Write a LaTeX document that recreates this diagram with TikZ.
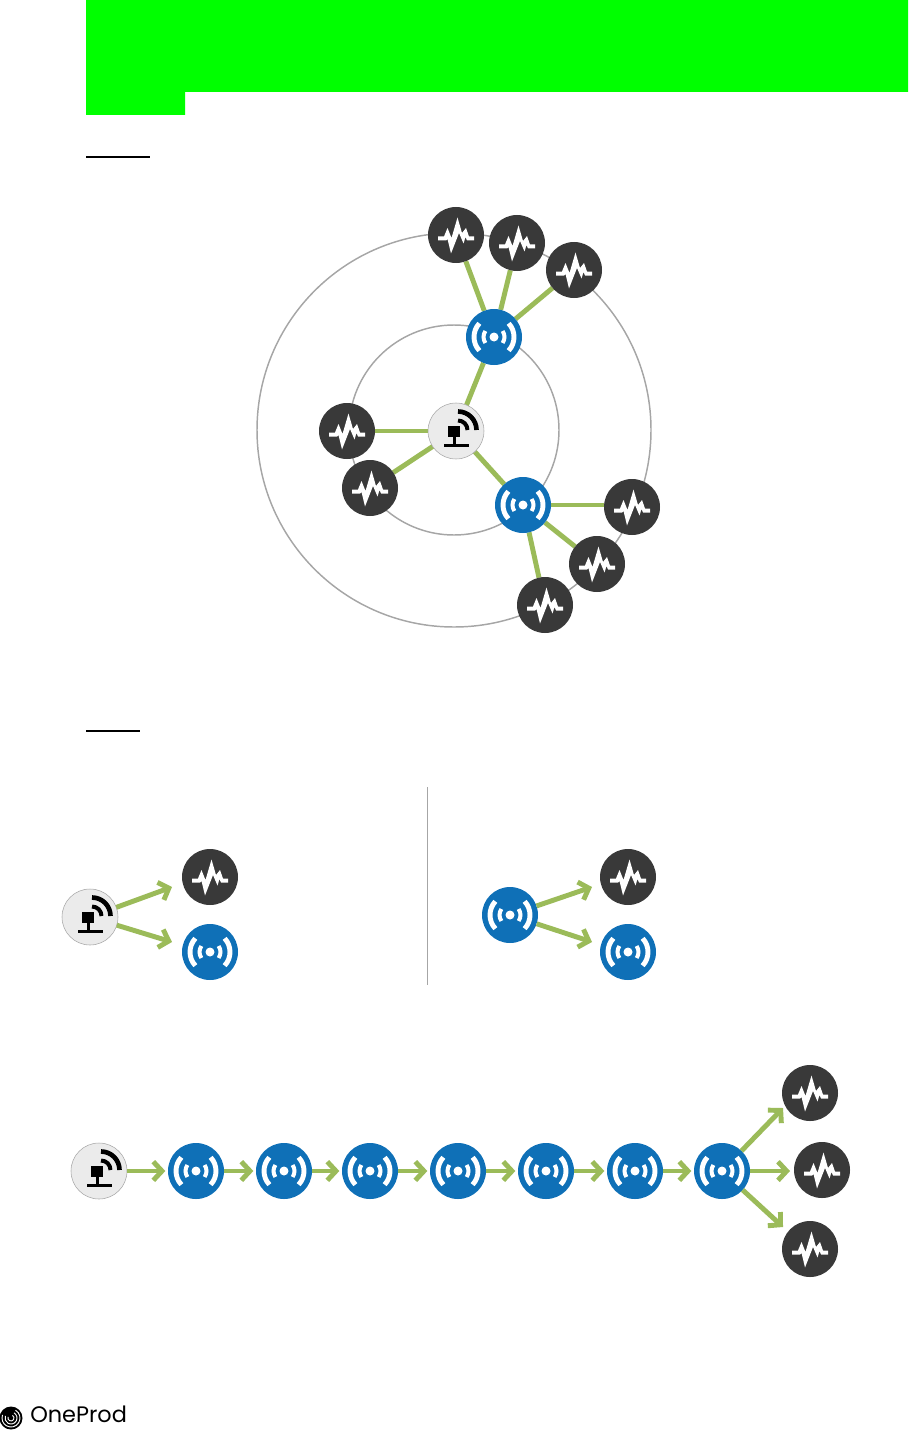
\documentclass[tikz,border=0pt]{standalone}
\usepackage{fontspec}
\setmainfont{Poppins}
\usetikzlibrary{arrows.meta,backgrounds}
\definecolor{linkgreen}{HTML}{9BBB59}
\definecolor{radioblue}{HTML}{0F70B7}
\definecolor{sensordark}{HTML}{393939}
\definecolor{apgray}{HTML}{EBEBEB}
\definecolor{ringgray}{HTML}{A6A6A6}
\tikzset{
  x=0.75pt,y=-0.75pt,
  unit/.style={circle,minimum size=42pt,inner sep=0pt,outer sep=0pt},
  sensor/.style={unit,fill=sensordark,path picture={
    \begin{scope}[shift={(path picture bounding box.center)}]
      \fill[white] (-18,1.5) -- (-12,1.5) -- (-8.5,-7) -- (-4.5,3) -- (1.5,-17.5) -- (6,-2) -- (10,-7) -- (13,1.5) -- (18,1.5)
        -- (18,5.5) -- (11,5.5) -- (9.5,2) -- (7.5,8.5) -- (3,-2) -- (-5,18.5) -- (-8.5,4) -- (-10,5.5) -- (-18,5.5) -- cycle;
    \end{scope}}},
  radio/.style={unit,fill=radioblue,path picture={
    \begin{scope}[shift={(path picture bounding box.center)}]
      \fill[white] (0,0) circle[radius=4.5];
      \draw[white,line width=3pt] (-35:10.5) arc[start angle=-35,end angle=35,radius=10.5];
      \draw[white,line width=3pt] (145:10.5) arc[start angle=145,end angle=215,radius=10.5];
      \draw[white,line width=3.7pt] (-43:20) arc[start angle=-43,end angle=43,radius=20];
      \draw[white,line width=3.7pt] (137:20) arc[start angle=137,end angle=223,radius=20];
    \end{scope}}},
  gateway/.style={unit,fill=apgray,draw=ringgray,line width=0.4pt,path picture={
    \begin{scope}[shift={(path picture bounding box.center)}]
      \fill[black] (-8.5,-5) rectangle (4,6);
      \fill[black] (-3.5,6) rectangle (-0.5,14);
      \fill[black] (-12,13) rectangle (13,16);
      \draw[black,line width=3pt] (2,-10.5) arc[start angle=-90,end angle=0,radius=9.5];
      \draw[black,line width=3.5pt] (2,-19.5) arc[start angle=-90,end angle=0,radius=18.5];
    \end{scope}}},
  link/.style={linkgreen,line width=3.7pt},
  flow/.style={linkgreen,line width=3.7pt,-{Straight Barb[length=6.5pt,width=14pt,line width=3.7pt]}},
  ring/.style={ringgray,line width=1.1pt},
}
\begin{document}
\begin{tikzpicture}
\useasboundingbox (0,0) rectangle (908,1430);
% highlighted heading band
\fill[green] (86,0) -- (908,0) -- (908,92) -- (185,92) -- (185,115) -- (86,115) -- cycle;
\fill[black] (86,156) rectangle (150,158);
\fill[black] (86,730) rectangle (140,732);

% star-mesh figure
\draw[ring] (454,430) circle[radius=105];
\draw[ring] (454,430) circle[radius=197];
\node[gateway] (ap) at (456,431) {};
\node[radio] (r1) at (494,337) {};
\node[radio] (r2) at (523,505) {};
\node[sensor] (s1) at (456,235) {};
\node[sensor] (s2) at (517,243) {};
\node[sensor] (s3) at (574,270) {};
\node[sensor] (s4) at (347,431) {};
\node[sensor] (s5) at (370,488) {};
\node[sensor] (s6) at (632,507) {};
\node[sensor] (s7) at (597,564) {};
\node[sensor] (s8) at (545,605) {};
\begin{pgfonlayer}{background}
\draw[link] (ap) -- (r1);
\draw[link] (ap) -- (r2);
\draw[link] (ap) -- (s4);
\draw[link] (ap) -- (s5);
\draw[link] (r1) -- (s1);
\draw[link] (r1) -- (s2);
\draw[link] (r1) -- (s3);
\draw[link] (r2.center) -- (r2.center -| s6.west);
\draw[link] (r2) -- (s7);
\draw[link] (r2) -- (s8);
\end{pgfonlayer}

% pairs
\draw[ringgray,line width=0.75pt] (427.5,787) -- (427.5,985);
\node[gateway] (a1) at (90,917) {};
\node[sensor] (a2) at (210,877) {};
\node[radio] (a3) at (210,952) {};
\coordinate (a2t) at (172,887);
\coordinate (a3t) at (172,942);
\draw[flow] (a1) -- (a2t);
\draw[flow] (a1) -- (a3t);
\node[radio] (b1) at (510,915) {};
\node[sensor] (b2) at (628,877) {};
\node[radio] (b3) at (628,952) {};
\coordinate (b2t) at (592,887);
\coordinate (b3t) at (592,942);
\draw[flow] (b1) -- (b2t);
\draw[flow] (b1) -- (b3t);

% chain
\node[gateway] (c0) at (99,1171) {};
\node[radio] (c1) at (196,1171) {};
\node[radio] (c2) at (284,1171) {};
\node[radio] (c3) at (370,1171) {};
\node[radio] (c4) at (458,1171) {};
\node[radio] (c5) at (546,1171) {};
\node[radio] (c6) at (635,1171) {};
\node[radio] (c7) at (722,1171) {};
\node[sensor] (d1) at (810,1093) {};
\node[sensor] (d2) at (822,1170) {};
\node[sensor] (d3) at (810,1249) {};
\foreach \p/\q in {c0/c1,c1/c2,c2/c3,c3/c4,c4/c5,c5/c6,c6/c7}
  \draw[flow,shorten >=2pt] (\p) -- (\q);
\coordinate (d1t) at (783,1108);
\coordinate (d2t) at (790,1171);
\coordinate (d3t) at (783,1227);
\draw[flow] (c7) -- (d1t);
\draw[flow] (c7) -- (d2t);
\draw[flow] (c7) -- (d3t);

% logo
\fill[black] (11,1418) circle[radius=11.5];
\foreach \r in {3,6,9}
  \draw[white,line width=0.7pt] (11,1418) ++(-60:\r) arc[start angle=-60,end angle=200,radius=\r];
\node[anchor=west,inner sep=0pt,font=\fontsize{16.8pt}{17pt}\selectfont] (logo) at (30,1414) {OneProd};
\end{tikzpicture}
\end{document}
